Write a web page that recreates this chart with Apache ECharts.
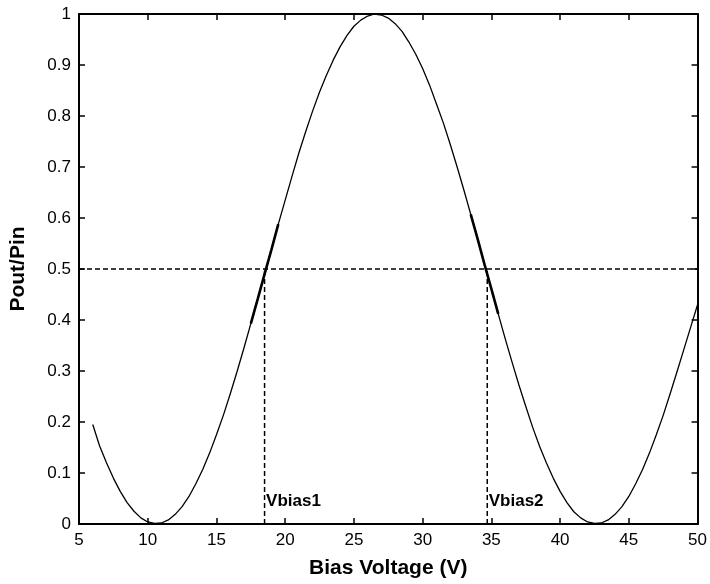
<!DOCTYPE html>
<html>
<head>
<meta charset="utf-8">
<script src="https://cdn.jsdelivr.net/npm/echarts@6/dist/echarts.min.js"></script>
<style>html,body{margin:0;padding:0;background:#fff;}#c{width:710px;height:584px;}</style>
</head>
<body>
<div id="c"></div>
<script>
// Data
var volts = [6,6.5,7,7.5,8,8.5,9,9.5,10,10.5,11,11.5,12,12.5,13,13.5,14,14.5,15,15.5,16,16.5,17,17.5,18,18.5,19,19.5,20,20.5,21,21.5,22,22.5,23,23.5,24,24.5,25,25.5,26,26.5,27,27.5,28,28.5,29,29.5,30,30.5,31,31.5,32,32.5,33,33.5,34,34.5,35,35.5,36,36.5,37,37.5,38,38.5,39,39.5,40,40.5,41,41.5,42,42.5,43,43.5,44,44.5,45,45.5,46,46.5,47,47.5,48,48.5,49,49.5,50];
var ratio = [0.195,0.153,0.120,0.090,0.064,0.042,0.025,0.012,0.004,0.001,0.002,0.008,0.019,0.034,0.054,0.079,0.107,0.139,0.175,0.213,0.255,0.299,0.345,0.393,0.441,0.490,0.538,0.588,0.635,0.682,0.728,0.770,0.810,0.847,0.880,0.910,0.936,0.958,0.976,0.988,0.996,1.000,0.998,0.992,0.981,0.966,0.945,0.921,0.893,0.861,0.824,0.787,0.745,0.701,0.655,0.607,0.559,0.509,0.461,0.412,0.364,0.318,0.273,0.231,0.190,0.153,0.120,0.090,0.064,0.042,0.024,0.012,0.004,0.001,0.002,0.008,0.019,0.034,0.054,0.079,0.107,0.139,0.175,0.213,0.255,0.298,0.342,0.386,0.430];
var thickRanges = [[17.5, 19.5], [33.5, 35.5]];
var halfLevel = 0.5;
var vbiasX = [18.5, 34.7];
var vbiasNames = ['Vbias1', 'Vbias2'];
var labelY = 0.045;
var xMin = 5, xMax = 50, xStep = 5;
var yMin = 0, yMax = 1, yStep = 0.1;

var FONT = 'Liberation Sans';
var chart = echarts.init(document.getElementById('c'), null, {renderer: 'canvas'});

var curve = volts.map(function (v, i) { return [v, ratio[i]]; });
var series = [];
series.push({
  type: 'line', data: curve, showSymbol: false, silent: true, z: 3,
  lineStyle: {color: '#000', width: 1.3}
});
thickRanges.forEach(function (r) {
  series.push({
    type: 'line', showSymbol: false, silent: true, z: 4,
    data: curve.filter(function (p) { return p[0] >= r[0] && p[0] <= r[1]; }),
    lineStyle: {color: '#000', width: 2.6}
  });
});
series.push({
  type: 'line', showSymbol: false, silent: true, z: 2,
  data: [[xMin, halfLevel], [xMax, halfLevel]],
  lineStyle: {color: '#000', width: 1.5, type: [5, 3]}
});
vbiasX.forEach(function (vx, i) {
  series.push({
    type: 'line', showSymbol: false, silent: true, z: 2,
    data: [[vx, yMin], [vx, halfLevel]],
    lineStyle: {color: '#000', width: 1.5, type: [5, 3]}
  });
  series.push({
    type: 'scatter', silent: true, symbolSize: 1, z: 5,
    itemStyle: {opacity: 0},
    data: [[vx, labelY]],
    label: {show: true, position: 'right', distance: 1, formatter: vbiasNames[i],
      fontFamily: FONT, fontWeight: 'bold', fontSize: 17, color: '#000', opacity: 1}
  });
});

function axisCommon(show) {
  return {
    axisLine: {show: true, onZero: false, lineStyle: {color: '#000', width: 2}},
    axisTick: {show: true, inside: true, length: 6, lineStyle: {color: '#000', width: 1.5}},
    splitLine: {show: false},
    axisLabel: show ? {show: true, fontFamily: FONT, fontSize: 17, color: '#000', margin: 8} : {show: false}
  };
}

var option = {
  backgroundColor: '#fff',
  animation: false,
  grid: {left: 77, right: 8, top: 14, bottom: 58, containLabel: false},
  xAxis: [
    Object.assign({type: 'value', min: xMin, max: xMax, interval: xStep, position: 'bottom',
      name: 'Bias Voltage (V)', nameLocation: 'middle', nameGap: 34,
      nameTextStyle: {fontFamily: FONT, fontWeight: 'bold', fontSize: 21, color: '#000'}}, axisCommon(true)),
    Object.assign({type: 'value', min: xMin, max: xMax, interval: xStep, position: 'top'}, axisCommon(false))
  ],
  yAxis: [
    Object.assign({type: 'value', min: yMin, max: yMax, interval: yStep, position: 'left',
      name: 'Pout/Pin', nameLocation: 'middle', nameGap: 50,
      nameTextStyle: {fontFamily: FONT, fontWeight: 'bold', fontSize: 21, color: '#000'}}, axisCommon(true)),
    Object.assign({type: 'value', min: yMin, max: yMax, interval: yStep, position: 'right'}, axisCommon(false))
  ],
  series: series
};
chart.setOption(option);
</script>
</body>
</html>
